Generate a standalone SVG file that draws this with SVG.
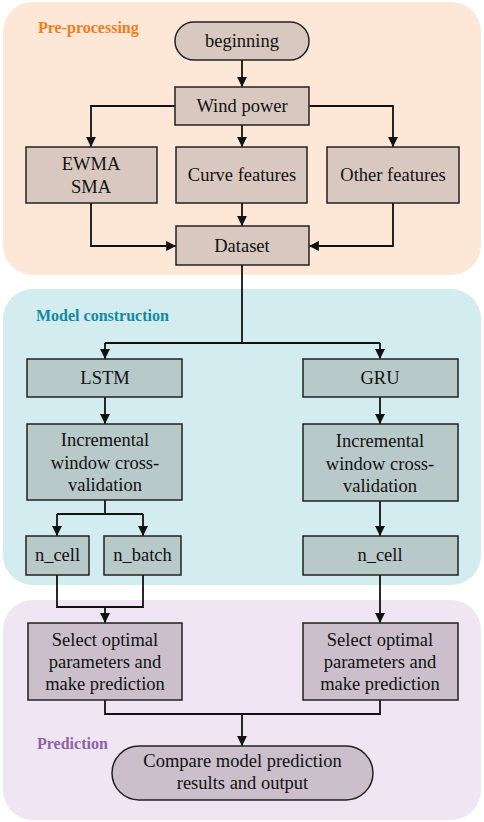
<svg xmlns="http://www.w3.org/2000/svg" width="484" height="822" viewBox="0 0 484 822">
<defs>
<marker id="ah" viewBox="0 0 10 10" refX="10" refY="5" markerWidth="5.5" markerHeight="5.5" markerUnits="strokeWidth" orient="auto">
<path d="M0,0 L10,5 L0,10 z" fill="#111"/>
</marker>
<style>
.t{font-size:18.5px;fill:#111;text-anchor:middle}
.lab{font-size:16px;font-weight:bold}
.n1{fill:#d9c8bf;stroke:#222;stroke-width:1.5}
.n2{fill:#b8c9ca;stroke:#222;stroke-width:1.5}
.n3{fill:#cbbfcc;stroke:#222;stroke-width:1.5}
.c{fill:none;stroke:#111;stroke-width:1.8}
</style>
</defs>
<rect width="484" height="822" fill="#ffffff"/>
<g font-family="Liberation Serif, DejaVu Serif, serif">
<g id="panel-pre">
<rect x="3" y="2" width="478" height="273" rx="30" fill="#fde8d8"/>
<text class="lab" x="38" y="33" fill="#f47b20">Pre-processing</text>
</g>
<g id="panel-model">
<rect x="3" y="289" width="478" height="296" rx="30" fill="#d3ecf0"/>
<text class="lab" x="36" y="321" fill="#138a9e">Model construction</text>
</g>
<g id="panel-pred">
<rect x="3" y="600" width="478" height="220" rx="30" fill="#f0e6f3"/>
<text class="lab" x="37" y="749" fill="#8c64a6">Prediction</text>
</g>
<g id="connectors">
<path class="c" d="M242,60 V87" marker-end="url(#ah)"/>
<path class="c" d="M175,106 H91 V147" marker-end="url(#ah)"/>
<path class="c" d="M242,125 V147" marker-end="url(#ah)"/>
<path class="c" d="M309,106 H393 V147" marker-end="url(#ah)"/>
<path class="c" d="M91,203 V246 H176" marker-end="url(#ah)"/>
<path class="c" d="M242,203 V226" marker-end="url(#ah)"/>
<path class="c" d="M393,203 V246 H309" marker-end="url(#ah)"/>
<path class="c" d="M242,265 V343"/>
<path class="c" d="M105,343 H380"/>
<path class="c" d="M105,343 V359" marker-end="url(#ah)"/>
<path class="c" d="M380,343 V359" marker-end="url(#ah)"/>
<path class="c" d="M105,397 V424" marker-end="url(#ah)"/>
<path class="c" d="M380,397 V424" marker-end="url(#ah)"/>
<path class="c" d="M105,500 V514"/>
<path class="c" d="M57,514 H143"/>
<path class="c" d="M57,514 V536" marker-end="url(#ah)"/>
<path class="c" d="M143,514 V536" marker-end="url(#ah)"/>
<path class="c" d="M380,501 V536" marker-end="url(#ah)"/>
<path class="c" d="M57,575 V607 H143 V575"/>
<path class="c" d="M105,607 V623" marker-end="url(#ah)"/>
<path class="c" d="M380,575 V623" marker-end="url(#ah)"/>
<path class="c" d="M105,700 V714 H380 V700"/>
<path class="c" d="M242,714 V746" marker-end="url(#ah)"/>
</g>
<g id="beginning">
<rect class="n1" x="175" y="22" width="134" height="38" rx="19"/>
<text class="t" x="242" y="47">beginning</text>
</g>
<g id="wind-power">
<rect class="n1" x="175" y="87" width="134" height="38"/>
<text class="t" x="242" y="112">Wind power</text>
</g>
<g id="ewma-sma">
<rect class="n1" x="26" y="147" width="131" height="56"/>
<text class="t" x="91" y="170">EWMA</text>
<text class="t" x="91" y="193">SMA</text>
</g>
<g id="curve-features">
<rect class="n1" x="176" y="147" width="131" height="56"/>
<text class="t" x="242" y="181">Curve features</text>
</g>
<g id="other-features">
<rect class="n1" x="327" y="147" width="132" height="56"/>
<text class="t" x="393" y="181">Other features</text>
</g>
<g id="dataset">
<rect class="n1" x="176" y="226" width="133" height="39"/>
<text class="t" x="242" y="252">Dataset</text>
</g>
<g id="lstm">
<rect class="n2" x="27" y="359" width="155" height="38"/>
<text class="t" x="105" y="384">LSTM</text>
</g>
<g id="gru">
<rect class="n2" x="303" y="359" width="155" height="38"/>
<text class="t" x="380" y="384">GRU</text>
</g>
<g id="iwcv-lstm">
<rect class="n2" x="27" y="424" width="155" height="76"/>
<text class="t" x="105" y="446">Incremental</text>
<text class="t" x="105" y="468.5">window cross-</text>
<text class="t" x="105" y="491">validation</text>
</g>
<g id="iwcv-gru">
<rect class="n2" x="303" y="424" width="155" height="77"/>
<text class="t" x="380" y="447">Incremental</text>
<text class="t" x="380" y="469.5">window cross-</text>
<text class="t" x="380" y="492">validation</text>
</g>
<g id="n-cell-lstm">
<rect class="n2" x="26" y="536" width="63" height="39"/>
<text class="t" x="57.5" y="561">n_cell</text>
</g>
<g id="n-batch">
<rect class="n2" x="104" y="536" width="77" height="39"/>
<text class="t" x="142.5" y="561">n_batch</text>
</g>
<g id="n-cell-gru">
<rect class="n2" x="303" y="536" width="155" height="39"/>
<text class="t" x="380" y="561">n_cell</text>
</g>
<g id="select-lstm">
<rect class="n3" x="28" y="623" width="154" height="77"/>
<text class="t" x="105" y="646">Select optimal</text>
<text class="t" x="105" y="668">parameters and</text>
<text class="t" x="105" y="690">make prediction</text>
</g>
<g id="select-gru">
<rect class="n3" x="303" y="623" width="155" height="77"/>
<text class="t" x="380" y="646">Select optimal</text>
<text class="t" x="380" y="668">parameters and</text>
<text class="t" x="380" y="690">make prediction</text>
</g>
<g id="compare">
<rect class="n3" x="112" y="746" width="261" height="54" rx="27"/>
<text class="t" x="242.5" y="767">Compare model prediction</text>
<text class="t" x="242.5" y="789">results and output</text>
</g>
</g>
</svg>
